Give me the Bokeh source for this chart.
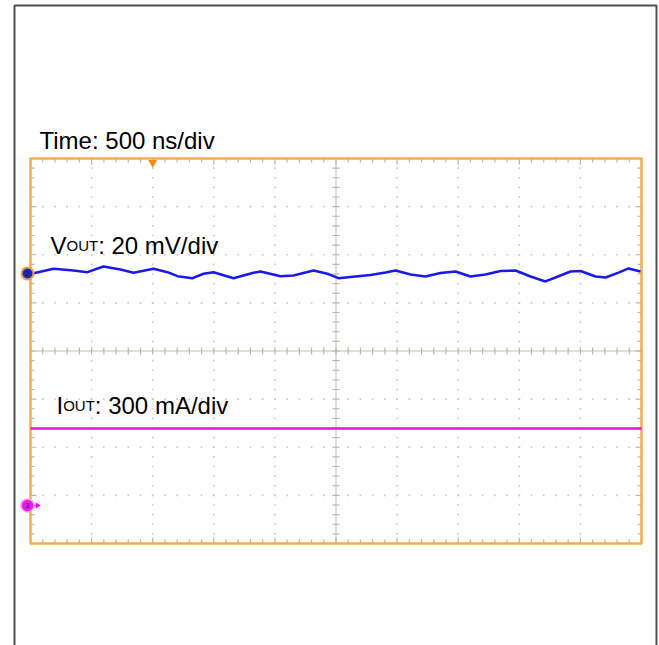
import numpy as np
from bokeh.plotting import figure
from bokeh.models import Range1d, Label
from bokeh.embed import file_html
from bokeh.resources import INLINE

# ---------------- data ----------------
vout_time_ns = [0, 188, 352, 466, 597, 736, 843, 1007, 1121, 1203, 1326, 1416,
                1498, 1661, 1825, 1882, 2046, 2152, 2316, 2430, 2520, 2660,
                2782, 2905, 2987, 3110, 3232, 3355, 3478, 3601, 3723, 3846,
                3969, 4092, 4214, 4296, 4419, 4501, 4624, 4706, 4812, 4894, 4992]
vout_mv = [-0.2, 1.95, 1.25, 0.55, 2.9, 1.65, 0.3, 1.95, 0.55, -1.1, -1.95, -0.1,
           0.55, -1.95, 0.3, 0.85, -1.1, -0.85, 1.25, -0.1, -1.95, -1.25,
           -0.6, 0.4, 1.25, -0.4, -1.25, 0.2, 0.85, -1.25, -0.4, 1.05,
           1.25, -1.25, -3.3, -1.65, 0.85, 1.05, -1.25, -1.65, 0.4, 2.1, 0.85]
iout_time_ns = [0, 500, 1000, 1500, 2000, 2500, 3000, 3500, 4000, 4500, 5000]
iout_ma = [480, 480, 480, 480, 480, 480, 480, 480, 480, 480, 480]

time_label = "Time: 500 ns/div"
vout_label = ["V", "OUT", ": 20 mV/div"]
iout_label = ["I", "OUT", ": 300 mA/div"]

TIME_PER_DIV = 500      # ns
VOUT_PER_DIV = 20       # mV
IOUT_PER_DIV = 300      # mA
N_XDIV, N_YDIV, N_SUB = 10, 8, 5
VOUT_REF_DIV = 5.61     # channel 2 reference level (divisions from bottom)
IOUT_REF_DIV = 0.79     # channel 3 reference level
TRIG_DIV = 2            # trigger position (divisions from left)

# ---------------- layout (canvas pixels) ----------------
W, H = 659, 645
GX0, GX1 = 30, 641
GY0, GY1 = 158, 543
PXX = (GX1 - GX0) / N_XDIV
PXY = (GY1 - GY0) / N_YDIV


def X(px):
    return (px - GX0) / PXX * TIME_PER_DIV


def Y(py):
    return (GY1 - py) / PXY


def dx(px):
    return px / PXX * TIME_PER_DIV


def dy(px):
    return px / PXY


p = figure(width=W, height=H, output_backend="svg", toolbar_location=None,
           x_range=Range1d(X(0), X(W)), y_range=Range1d(Y(H), Y(0)),
           min_border=0, x_axis_location=None, y_axis_location=None,
           outline_line_color=None, background_fill_color="white")
p.grid.visible = False

# outer frame (left, top, right)
p.line([X(14), X(14), X(656), X(656)], [Y(H + 20), Y(5), Y(5), Y(H + 20)],
       line_color="#505050", line_width=2)

# ---------------- graticule ----------------
DOT = "#cdcdc8"
TICK = "#b8b8ac"
xmin = np.arange(1, N_XDIV * N_SUB) / N_SUB
ymin = np.arange(1, N_YDIV * N_SUB) / N_SUB
gx, gy = [], []
for j in range(1, N_YDIV):
    if j == N_YDIV // 2:
        continue
    gx += list(xmin * TIME_PER_DIV)
    gy += [j] * len(xmin)
for k in range(1, N_XDIV):
    if k == N_XDIV // 2:
        continue
    gx += [k * TIME_PER_DIV] * len(ymin)
    gy += list(ymin)
p.scatter(gx, gy, marker="square", size=1.7, fill_color=DOT, line_color=None)

# centre cross
cx = N_XDIV / 2 * TIME_PER_DIV
cy = N_YDIV / 2
p.segment(x0=[0, cx], y0=[cy, 0], x1=[N_XDIV * TIME_PER_DIV, cx], y1=[cy, N_YDIV],
          line_color="#d6d6ce", line_width=1.5)
xt = xmin * TIME_PER_DIV
p.segment(x0=xt, y0=cy - dy(3.5), x1=xt, y1=cy + dy(3.5), line_color=TICK, line_width=1.2)
p.segment(x0=cx - dx(3.5), y0=ymin, x1=cx + dx(3.5), y1=ymin, line_color=TICK, line_width=1.2)

# border ticks
tl = np.array([dy(6) if abs(v - round(v)) < 1e-6 else dy(4) for v in xmin])
p.segment(x0=xt, y0=0, x1=xt, y1=tl, line_color=TICK, line_width=1.2)
p.segment(x0=xt, y0=N_YDIV, x1=xt, y1=N_YDIV - tl, line_color=TICK, line_width=1.2)
tlx = np.array([dx(6) if abs(v - round(v)) < 1e-6 else dx(4) for v in ymin])
p.segment(x0=0, y0=ymin, x1=tlx, y1=ymin, line_color=TICK, line_width=1.2)
xr = N_XDIV * TIME_PER_DIV
p.segment(x0=xr, y0=ymin, x1=xr - tlx, y1=ymin, line_color=TICK, line_width=1.2)

# orange border
p.quad(left=0, right=xr, bottom=0, top=N_YDIV, fill_color=None,
       line_color="#f2ab52", line_width=2.5)

# trigger marker
p.scatter([TRIG_DIV * TIME_PER_DIV], [N_YDIV - dy(4)], marker="inverted_triangle",
          size=9, fill_color="#f08a1c", line_color=None)

# ---------------- traces ----------------
p.line(iout_time_ns, IOUT_REF_DIV + np.array(iout_ma) / IOUT_PER_DIV,
       line_color="#ee10ee", line_width=2.5)
p.line(vout_time_ns, VOUT_REF_DIV + np.array(vout_mv) / VOUT_PER_DIV,
       line_color="#1a1ae6", line_width=2.5, line_join="round")

# channel markers
p.scatter([X(27)], [VOUT_REF_DIV], marker="circle", size=12, fill_color="#1c2ab8",
          line_color="#f2a040", line_width=2)
p.text([X(27)], [VOUT_REF_DIV], text=["2"], text_font_size="7px", text_align="center",
       text_baseline="middle", text_color="#101040")
p.segment(x0=[X(32)], y0=[IOUT_REF_DIV], x1=[X(37)], y1=[IOUT_REF_DIV],
          line_color="#ee10ee", line_width=1.5)
p.scatter([X(37)], [IOUT_REF_DIV], marker="triangle", angle=-np.pi / 2, size=6,
          fill_color="#ee10ee", line_color=None)
p.scatter([X(27)], [IOUT_REF_DIV], marker="circle", size=13, fill_color="#e81ee8",
          line_color="#f6a0f6", line_width=1.5)
p.text([X(27)], [IOUT_REF_DIV], text=["3"], text_font_size="7px", text_align="center",
       text_baseline="middle", text_color="#400040")

# ---------------- labels ----------------
FONT = "Liberation Sans"
BIG, SMALL = 24, 15


def lab(x, y, t, size):
    p.add_layout(Label(x=x, y=y, text=t, text_font=FONT, text_font_size=f"{size}px",
                       text_baseline="alphabetic", text_align="left", text_color="black"))


lab(X(39), Y(140), time_label, BIG)

vx, vy = 50, 245
lab(X(vx), Y(vy), vout_label[0], BIG)
lab(X(vx + 0.667 * BIG), Y(vy), vout_label[1], SMALL)
lab(X(vx + 0.667 * BIG + 2.111 * SMALL), Y(vy), vout_label[2], BIG)

ix, iy = 56, 405
lab(X(ix), Y(iy), iout_label[0], BIG)
lab(X(ix + 0.278 * BIG), Y(iy), iout_label[1], SMALL)
lab(X(ix + 0.278 * BIG + 2.111 * SMALL), Y(iy), iout_label[2], BIG)

open("out.html", "w").write(file_html(p, INLINE))
